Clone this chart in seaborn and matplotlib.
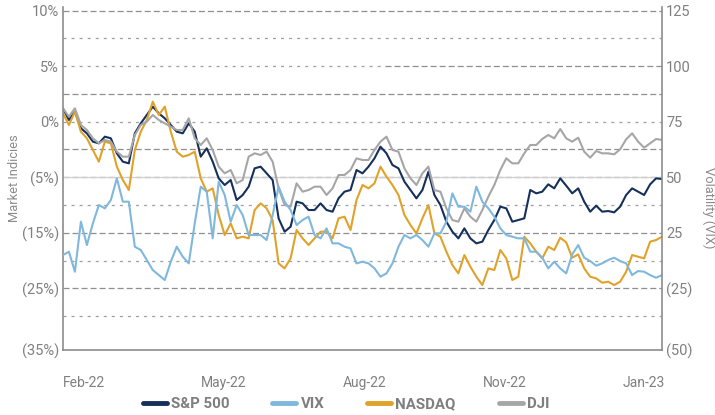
import numpy as np
import pandas as pd
import matplotlib
matplotlib.use("Agg")
import matplotlib.pyplot as plt
import seaborn as sns

# values (left axis units for the indices, right axis units for VIX)
sp500 = [1.2, 0.15, 0.9, -0.6, -1.05, -1.8, -1.95, -1.35, -1.5, -2.85, -3.6, -3.75, -1.05,
         -0.15, 0.6, 1.35, 0.75, 0.3, -0.3, -0.9, -1.05, -0.15, -0.9, -3.15, -2.4, -3.6,
         -5.1, -5.7, -5.25, -7.05, -6.6, -5.85, -4.2, -4.05, -4.65, -5.25, -8.7, -9.9, -9.45,
         -7.2, -7.35, -7.95, -7.95, -7.35, -7.95, -8.1, -6.9, -6.3, -6.15, -4.35, -4.65,
         -4.05, -3.3, -2.25, -2.85, -3.9, -4.2, -5.4, -6.15, -6.9, -6.15, -4.5, -6.6, -7.5,
         -9.0, -9.9, -10.5, -9.6, -10.5, -10.95, -10.8, -9.75, -8.85, -7.65, -7.8, -9.0,
         -8.85, -8.7, -6.15, -6.45, -6.3, -5.64, -6.0, -5.1, -5.76, -6.45, -6.0, -7.2, -8.1,
         -7.56, -8.1, -8.04, -8.16, -7.65, -6.6, -6.0, -6.3, -6.6, -5.64, -5.1, -5.16]
nasdaq = [0.75, -0.3, 0.9, -0.9, -1.5, -2.55, -3.6, -1.8, -1.95, -4.05, -5.25, -6.15, -2.55,
          -0.9, 0.15, 1.8, 0.6, 1.35, -0.9, -2.7, -3.15, -3.0, -2.7, -5.1, -6.3, -6.0,
          -8.4, -10.2, -9.15, -10.5, -10.35, -10.5, -7.95, -7.35, -7.8, -8.85, -12.75, -13.2,
          -12.3, -9.75, -10.5, -11.1, -10.5, -9.9, -9.9, -10.5, -8.7, -8.55, -9.75, -7.05, -5.7,
          -6.0, -5.55, -4.05, -4.95, -5.7, -6.6, -8.4, -9.3, -10.05, -8.7, -7.5, -10.05, -10.35,
          -11.7, -12.9, -13.65, -12.0, -13.05, -13.95, -14.7, -13.2, -13.35, -11.55, -12.3, -14.25,
          -13.95, -10.35, -10.95, -11.7, -12.3, -11.25, -11.55, -10.44, -10.86, -12.24, -11.94,
          -13.2, -13.95, -14.1, -14.49, -14.4, -14.7, -14.4, -13.5, -12.0, -12.15, -12.3, -10.8,
          -10.65, -10.35]
dji = [1.2, 0.45, 1.2, -0.3, -0.75, -1.5, -1.95, -1.65, -1.8, -2.7, -3.15, -3.15, -1.2,
       -0.3, 0.0, 0.6, 0.15, -0.15, -0.45, -0.75, -0.75, 0.3, -1.5, -2.1, -1.5, -2.55,
       -4.05, -4.65, -4.35, -5.55, -5.25, -3.15, -2.85, -3.0, -2.7, -3.6, -6.0, -7.5, -7.65,
       -5.55, -6.3, -6.15, -5.85, -5.85, -6.6, -6.0, -4.8, -4.8, -4.35, -3.3, -3.45,
       -3.45, -2.55, -1.8, -1.35, -2.55, -2.7, -4.2, -5.1, -5.7, -4.65, -4.05, -6.15, -6.3,
       -7.8, -8.85, -9.0, -7.8, -8.55, -9.0, -7.95, -6.75, -5.7, -4.35, -3.3, -3.75,
       -3.75, -2.85, -2.1, -2.1, -1.56, -1.2, -1.5, -0.66, -1.5, -1.8, -1.44, -2.7, -3.24,
       -2.64, -2.85, -2.85, -2.94, -2.49, -1.59, -1.05, -1.8, -2.34, -1.95, -1.56, -1.65]
vix = [15.0, 16.5, 7.5, 30.0, 19.5, 29.25, 37.5, 36.0, 39.75, 49.5, 39.0, 39.0, 18.75,
       17.25, 12.75, 8.25, 6.0, 3.75, 12.0, 18.75, 14.25, 11.25, 29.25, 45.75, 43.5, 22.5,
       48.0, 42.0, 30.0, 37.5, 33.0, 24.0, 24.0, 24.0, 21.75, 33.0, 45.75, 39.0, 35.25,
       28.5, 30.75, 32.25, 24.0, 22.5, 27.0, 20.25, 20.25, 18.75, 18.0, 11.25, 12.0,
       11.25, 9.0, 5.25, 6.75, 11.25, 18.75, 24.0, 22.5, 24.0, 21.75, 18.75, 24.75, 24.75,
       30.0, 42.75, 36.75, 36.75, 34.5, 45.75, 39.0, 36.0, 32.25, 27.0, 24.0, 23.25,
       22.5, 22.5, 16.5, 16.5, 13.8, 9.0, 12.0, 9.0, 6.75, 15.3, 19.5, 13.8, 12.3,
       10.2, 11.25, 12.75, 13.8, 12.3, 11.25, 6.0, 7.8, 7.5, 6.0, 4.8, 6.0]

month_labels = ["Feb-22", "May-22", "Aug-22", "Nov-22", "Jan-23"]
month_pos = [3.5, 26.9, 50.3, 73.7, 96.9]
left_labels = ["10%", "5%", "0%", "(5%)", "(15%)", "(25%)", "(35%)"]
right_labels = ["125", "100", "75", "50", "25", "(25)", "(50)"]

sns.set_theme(style="white")
plt.rcParams["font.family"] = ["Roboto", "DejaVu Sans"]
plt.rcParams["lines.scale_dashes"] = False

df = pd.DataFrame({"day": np.arange(len(sp500)), "S&P 500": sp500, "NASDAQ": nasdaq,
                   "DJI": dji, "VIX": vix})

fig, ax = plt.subplots(figsize=(7.15, 4.15), dpi=100)
fig.subplots_adjust(left=0.088, right=0.926, top=0.983, bottom=0.157)
ax2 = ax.twinx()

lo, hi = -20.53, 10.31
ax.set_ylim(lo, hi)
ax2.set_ylim(75 + 5 * lo, 75 + 5 * hi)
ax.set_xlim(0, len(sp500) - 1)

# grid: mix of long dashes and dots
dash = (0, (4.3, 2.2))
dot = (0, (2.2, 3.6))
grid_levels = [10, 7.5, 2.5, 0, -2.5, -5, -7.5, -10, -12.5, -15, -17.5]
grid_styles = [dash, dot, dash, dot, dash, dash, dot, dash, dot, dash, dot]
for lev, ls in zip(grid_levels, grid_styles):
    ax.axhline(lev, color="#8f8f8f" if ls == dash else "#a0a0a0", lw=0.9, ls=ls, zorder=0)
ax.axhline(5, xmax=0.537, color="#a0a0a0", lw=0.9, ls=dot, zorder=0)
ax.axhline(5, xmin=0.537, color="#8f8f8f", lw=0.9, ls=dash, zorder=0)
ax.axhline(-5, color="#d0d0d0", lw=0.9, zorder=0)

lw = 1.5
sns.lineplot(data=df, x="day", y="S&P 500", ax=ax, color="#15305a", lw=lw, label="S&P 500")
sns.lineplot(data=df, x="day", y="NASDAQ", ax=ax, color="#e0a229", lw=lw, label="NASDAQ")
sns.lineplot(data=df, x="day", y="DJI", ax=ax, color="#a6a6a6", lw=lw, label="DJI")
sns.lineplot(data=df, x="day", y="VIX", ax=ax2, color="#7fb8dc", lw=lw, label="VIX")

h1, l1 = ax.get_legend_handles_labels()
h2, l2 = ax2.get_legend_handles_labels()
ax.get_legend().remove()
ax2.get_legend().remove()
hmap = dict(zip(l1 + l2, h1 + h2))
order = ["S&P 500", "VIX", "NASDAQ", "DJI"]
leg = fig.legend([hmap[k] for k in order], order, loc="center", bbox_to_anchor=(0.484, 0.027),
                 ncol=4, frameon=False, handlelength=1.6, handletextpad=0.28,
                 columnspacing=2.85, prop={"size": 10.8, "weight": "bold"})
for t in leg.get_texts():
    t.set_color("#7f7f7f")
for ln in leg.get_lines():
    ln.set_linewidth(3.5)

ax.set_yticks([10, 5, 0, -5, -10, -15, lo])
ax.set_yticklabels(left_labels)
ax2.set_yticks([125, 100, 75, 50, 25, 0, 75 + 5 * lo])
ax2.set_yticklabels(right_labels)
ax.set_xticks(month_pos)
ax.set_xticklabels(month_labels)

ax.tick_params(axis="y", length=0, pad=3, labelsize=10.5, labelcolor="#808080")
ax2.tick_params(axis="y", length=0, pad=3, labelsize=10.5, labelcolor="#808080")
ax.tick_params(axis="x", length=0, pad=19, labelsize=10, labelcolor="#808080")

ax.set_xlabel("")
ax.set_ylabel("Market Indicies", fontsize=9.3, color="#8c8c8c", va="center", ha="center")
ax.yaxis.set_label_coords(-0.080, 0.5)
ax2.set_ylabel("Volatility (VIX)", fontsize=9.3, color="#8c8c8c", rotation=270,
               va="center", ha="center")
ax2.yaxis.set_label_coords(1.077, 0.414)

for a in (ax, ax2):
    for s in a.spines.values():
        s.set_color("#8c8c8c")
        s.set_linewidth(1.2)
    a.spines["top"].set_visible(False)
ax.spines["right"].set_visible(False)
ax2.spines["left"].set_visible(False)
ax2.spines["bottom"].set_visible(False)

fig.savefig("out.png", dpi=100)
